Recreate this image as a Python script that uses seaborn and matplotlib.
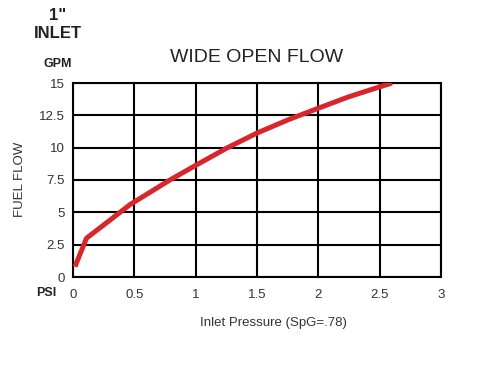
import numpy as np
import pandas as pd
import matplotlib
matplotlib.use("Agg")
import matplotlib.pyplot as plt
import seaborn as sns

# data
pressure = [0.016, 0.11, 0.37, 0.465, 0.79, 1.0, 1.26, 1.5, 1.76, 2.0, 2.25, 2.5, 2.6]
flow = [0.8, 3.0, 4.9, 5.6, 7.5, 8.63, 10.0, 11.13, 12.18, 13.05, 13.94, 14.7, 15.0]
x_ticks = [0, 0.5, 1, 1.5, 2, 2.5, 3]
x_labels = ["0", "0.5", "1", "1.5", "2", "2.5", "3"]
y_ticks = [0, 2.5, 5, 7.5, 10, 12.5, 15]
y_labels = ["0", "2.5", "5", "7.5", "10", "12.5", "15"]

df = pd.DataFrame({"pressure": pressure, "flow": flow})

sns.set_style("white")
plt.rcParams['font.family'] = ['Liberation Sans', 'DejaVu Sans']

fig = plt.figure(figsize=(4.91, 3.68), dpi=100)
ax = fig.add_axes([73 / 491, 1 - 277 / 368, 368 / 491, 194 / 368])

sns.lineplot(data=df, x="pressure", y="flow", ax=ax, color="#d9262c",
             linewidth=3.6, solid_capstyle="butt", solid_joinstyle="round", zorder=3)

ax.set_xlim(0, 3)
ax.set_ylim(0, 15)
ax.set_xticks(x_ticks)
ax.set_xticklabels(x_labels)
ax.set_yticks(y_ticks)
ax.set_yticklabels(y_labels)
ax.tick_params(axis="y", length=0, labelsize=9.5, labelcolor="#333333", pad=6)
ax.tick_params(axis="x", length=0, labelsize=9.5, labelcolor="#333333", pad=9)
ax.grid(True, color="black", linewidth=1.5)
for s in ax.spines.values():
    s.set_color("black")
    s.set_linewidth(1.5)

ax.set_xlabel("")
ax.set_ylabel("")

fig.text(58 / 491, 1 - 15 / 368, '1"', ha="center", va="center", fontsize=12, fontweight="bold", color="#222222")
fig.text(58 / 491, 1 - 33 / 368, "INLET", ha="center", va="center", fontsize=12, fontweight="bold", color="#222222")
fig.text(58 / 491, 1 - 64 / 368, "GPM", ha="center", va="center", fontsize=9, fontweight="bold", color="#222222")
fig.text(257 / 491, 1 - 57 / 368, "WIDE OPEN FLOW", ha="center", va="center", fontsize=14, color="#222222")
fig.text(20 / 491, 1 - 179 / 368, "FUEL FLOW", ha="center", va="center", rotation=90, fontsize=9.5, color="#333333")
fig.text(46 / 491, 1 - 293 / 368, "PSI", ha="center", va="center", fontsize=9, fontweight="bold", color="#222222")
fig.text(273 / 491, 1 - 323 / 368, "Inlet Pressure (SpG=.78)", ha="center", va="center", fontsize=9.5, color="#333333")

plt.savefig("out.png", dpi=100)
